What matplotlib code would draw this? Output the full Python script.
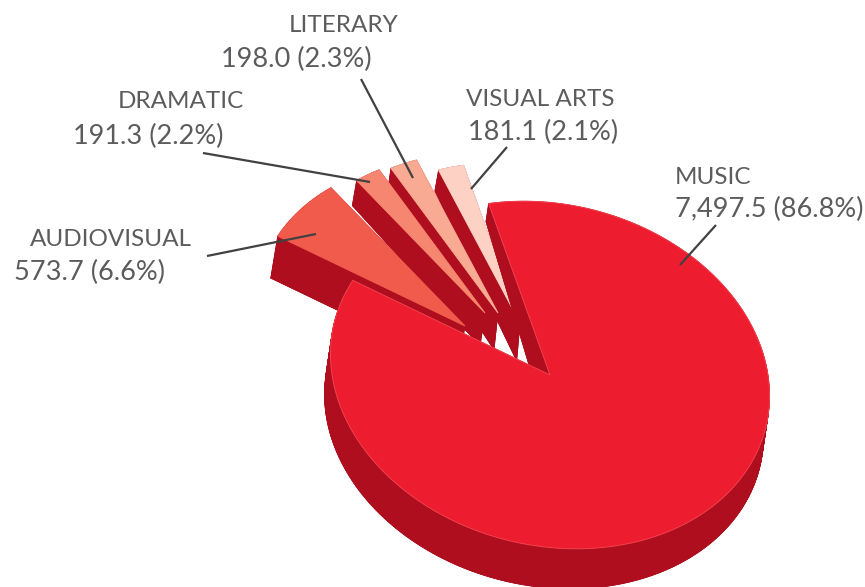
import numpy as np
import matplotlib
matplotlib.use("Agg")
import matplotlib.pyplot as plt

categories = ["MUSIC", "AUDIOVISUAL", "DRAMATIC", "LITERARY", "VISUAL ARTS"]
values = [7497.5, 573.7, 191.3, 198.0, 181.1]

colors = ["#ED1C2E", "#F15B4C", "#F6866F", "#F9AA93", "#FDD2C4"]
dark = "#AE0E1D"
text_col = "#5C5C5E"

# pie centre and the skewed ellipse of the rim, in pixels
cx, cy = 550, 375
start_angle = 101
explode = [(0, 0), (-85, -49), (-65, -62), (-52, -62), (-30, -52)]
radius = [1, 0.95, 0.91, 0.92, 0.92]
depth = [(-6, 40), (-7, 42), (-4.3, 25), (-2.5, 18), (-3.7, 21)]
tip_depth = [(-6, 40), (-7, 42), (-5, 33), (-4, 37), (-3.3, 38)]

# label x positions (name, value line), label y positions, leader lines
name_pos = [(675, 177), (30, 240), (118, 102), (289, 26), (466, 100)]
value_pos = [(675, 209), (14, 272), (73, 136), (221, 59), (468, 132)]
leaders = [[(716, 225), (680, 265)], [(207, 256), (316, 234)], [(203, 153), (370, 182)],
           [(361, 79), (413, 178)], [(507, 147), (471, 189)]]


def rim(t):
    t = np.radians(t)
    x = 218.6 * np.cos(t) - 20 * np.sin(t)
    y = -173.7 * np.sin(t) + 5 * np.cos(t)
    return x, y


def wedge(i, t1, t2):
    ts = np.linspace(t1, t2, max(int(abs(t2 - t1)), 4) * 2)
    x, y = rim(ts)
    x = np.concatenate([[0], x * radius[i]]) + cx + explode[i][0]
    y = np.concatenate([[0], y * radius[i]]) + cy + explode[i][1]
    return x, y


def draw_slice(i, t1, t2):
    x, y = wedge(i, t1, t2)
    dx = np.full(len(x), float(depth[i][0]))
    dy = np.full(len(x), float(depth[i][1]))
    dx[0], dy[0] = tip_depth[i]
    if i == 0:
        # the far side of the big slice looks thinner
        f = 0.45 + 0.55 * np.clip((y - 203) / 147, 0, 1)
        dx = dx * f
        dy = dy * f
    x2 = x + dx
    y2 = y + dy
    ax.fill(x2, y2, color=dark, lw=0.5, zorder=i_z)
    for k in range(len(x)):
        n = (k + 1) % len(x)
        ax.fill([x[k], x[n], x2[n], x2[k]], [y[k], y[n], y2[n], y2[k]], color=dark, lw=0.5, zorder=i_z)
    edge = "#F2414F" if i == 0 else colors[i]
    ax.fill(x, y, facecolor=colors[i], edgecolor=edge, lw=0.7, zorder=i_z + 0.5)


fig = plt.figure(figsize=(8.65, 5.87), dpi=100)
ax = fig.add_axes([0, 0, 1, 1])
ax.set_xlim(0, 865)
ax.set_ylim(587, 0)
ax.axis("off")

total = sum(values)
sweeps = [v / total * 360 for v in values]

# music runs clockwise from the start, the others carry on from its end
angles = [start_angle]
for s in sweeps:
    angles.append(angles[-1] - s)

for i in [4, 3, 2, 1, 0]:
    i_z = 5 - i
    draw_slice(i, angles[i], angles[i + 1])

for i in range(len(categories)):
    share = values[i] / total * 100
    ax.text(name_pos[i][0], name_pos[i][1], categories[i], color=text_col, fontsize=17.5,
            family="Lato", va="center", ha="left", zorder=10)
    ax.text(value_pos[i][0], value_pos[i][1], f"{values[i]:,.1f} ({share:.1f}%)", color=text_col,
            fontsize=19.5, family="Lato", va="center", ha="left", zorder=10)
    a, b = leaders[i]
    ax.plot([a[0], b[0]], [a[1], b[1]], color="#414042", lw=1.6, zorder=9, solid_capstyle="butt")

fig.savefig("out.png", dpi=100)
